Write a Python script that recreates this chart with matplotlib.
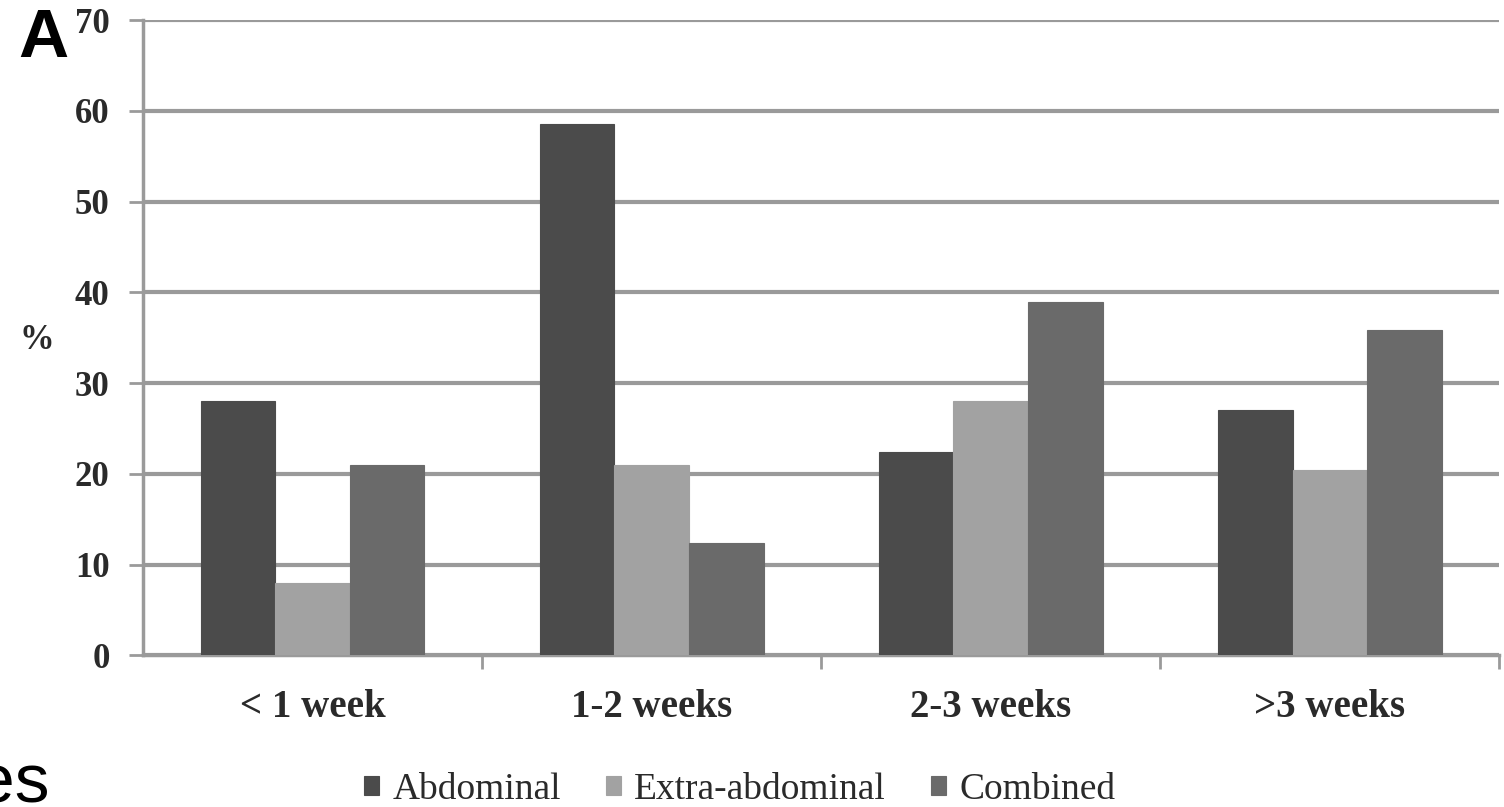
import matplotlib
matplotlib.use("Agg")
import matplotlib.pyplot as plt
import numpy as np

categories = ["< 1 week", "1-2 weeks", "2-3 weeks", ">3 weeks"]
series_names = ["Abdominal", "Extra-abdominal", "Combined"]
abdominal = [28, 58.6, 22.4, 27]
extra_abdominal = [8, 21, 28, 20.4]
combined = [21, 12.4, 38.9, 35.9]
yticks = [0, 10, 20, 30, 40, 50, 60, 70]

colors = ["#4b4b4b", "#a2a2a2", "#6a6a6a"]
values = [abdominal, extra_abdominal, combined]

fig = plt.figure(figsize=(15.04, 8.07), dpi=100)
ax = fig.add_axes([0.095, 0.188, 0.902, 0.787])

x = np.arange(len(categories))
w = 0.22
for i, (vals, c, name) in enumerate(zip(values, colors, series_names)):
    ax.bar(x + (i - 1) * w, vals, width=w, color=c, label=name, zorder=3,
           edgecolor=c, linewidth=0.8)

ax.set_xlim(-0.5, len(categories) - 0.5)
ax.set_ylim(0, 70)
ax.set_yticks(yticks)
ax.yaxis.grid(True, color="#9a9a9a", linewidth=3, zorder=0)
ax.set_axisbelow(True)

for s in ["top", "right"]:
    ax.spines[s].set_visible(False)
for s in ["left", "bottom"]:
    ax.spines[s].set_color("#9a9a9a")
    ax.spines[s].set_linewidth(2.5)

ax.set_xticks(x)
ax.set_xticklabels(categories, fontsize=28, family="Liberation Serif",
                   fontweight="bold", color="#2a2a2a")
ax.tick_params(axis="x", length=0, pad=24)
ax.set_xticks(np.arange(0.5, len(categories), 1.0), minor=True)
ax.tick_params(axis="x", which="minor", length=10, width=2, color="#9a9a9a")
ax.tick_params(axis="y", length=10, width=2, color="#9a9a9a", pad=14)
for lbl in ax.get_yticklabels():
    lbl.set_fontsize(25)
    lbl.set_family("Liberation Serif")
    lbl.set_fontweight("bold")
    lbl.set_color("#2a2a2a")

fig.text(0.013, 0.578, "%", fontsize=25, family="Liberation Serif",
         fontweight="bold", ha="left", va="center", color="#2a2a2a")
fig.text(0.012, 0.952, "A", fontsize=50, family="Liberation Sans",
         fontweight="bold", ha="left", va="center")
fig.text(-0.016, 0.006, "es", fontsize=50, family="Liberation Sans",
         ha="left", va="baseline")

leg = ax.legend(loc="center", bbox_to_anchor=(0.44, -0.212), ncol=3,
                frameon=False, handlelength=0.4, handleheight=0.4,
                handletextpad=0.35, columnspacing=1.2,
                prop={"family": "Liberation Serif", "size": 27})
for t in leg.get_texts():
    t.set_color("#2a2a2a")

fig.savefig("out.png", dpi=100)
